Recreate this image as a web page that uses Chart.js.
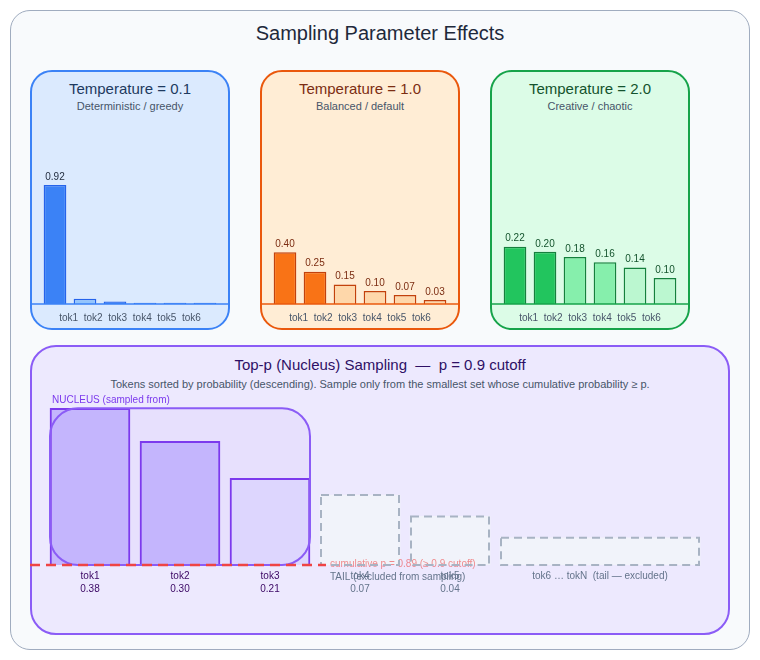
<!DOCTYPE html>
<html>
<head>
<meta charset="utf-8">
<script src="https://cdn.jsdelivr.net/npm/chart.js@4.4.1/dist/chart.umd.min.js"></script>
<style>
  html, body { margin: 0; padding: 0; background: #ffffff; width: 760px; height: 660px; overflow: hidden;
    font-family: "Liberation Sans", Arial, sans-serif; }
  .box { position: absolute; box-sizing: border-box; }
  #frame { left: 10px; top: 10px; width: 740px; height: 640px; border: 1.5px solid #a0acbf; border-radius: 20px; background: #f8fafc; }
  .panel { border-style: solid; border-width: 2px; border-radius: 22px; }
  .t { position: absolute; white-space: pre; transform: translate(-50%, -50%); line-height: 1; }
  canvas { position: absolute; }
</style>
</head>
<body>
<div id="frame" class="box"></div>
<div class="t" style="left:380px; top:33px; font-size:20px; color:#1e293b;">Sampling Parameter Effects</div>

<div class="box panel" style="left:30px; top:70px; width:200px; height:260px; border-color:#3b82f6; background:#dbeafe;"></div>
<div class="box panel" style="left:260px; top:70px; width:200px; height:260px; border-color:#ea580c; background:#ffedd5;"></div>
<div class="box panel" style="left:490px; top:70px; width:200px; height:260px; border-color:#16a34a; background:#dcfce7;"></div>
<div class="box panel" style="left:30px; top:345px; width:700px; height:290px; border-color:#8b5cf6; background:#ede9fe; border-radius:26px;"></div>

<div class="t" style="left:130px; top:88px; font-size:15px; color:#1e3a5f;">Temperature = 0.1</div>
<div class="t" style="left:130px; top:106px; font-size:11px; color:#475569;">Deterministic / greedy</div>
<div class="t" style="left:360px; top:88px; font-size:15px; color:#7c2d12;">Temperature = 1.0</div>
<div class="t" style="left:360px; top:106px; font-size:11px; color:#475569;">Balanced / default</div>
<div class="t" style="left:590px; top:88px; font-size:15px; color:#14532d;">Temperature = 2.0</div>
<div class="t" style="left:590px; top:106px; font-size:11px; color:#475569;">Creative / chaotic</div>

<div class="t" style="left:380px; top:364px; font-size:15px; color:#2e1065;">Top-p (Nucleus) Sampling  —  p = 0.9 cutoff</div>
<div class="t" style="left:380px; top:384px; font-size:11px; color:#475569;">Tokens sorted by probability (descending). Sample only from the smallest set whose cumulative probability ≥ p.</div>

<canvas id="c1" width="200" height="215" style="left:30px; top:115px;"></canvas>
<canvas id="c2" width="200" height="215" style="left:260px; top:115px;"></canvas>
<canvas id="c3" width="200" height="215" style="left:490px; top:115px;"></canvas>
<canvas id="c4" width="700" height="240" style="left:30px; top:395px;"></canvas>

<script>
// ---------------- data ----------------
const tempTokens = ['tok1', 'tok2', 'tok3', 'tok4', 'tok5', 'tok6'];
const temp01 = [0.92, 0.04, 0.02, 0.01, 0.01, 0.01];
const temp10 = [0.40, 0.25, 0.15, 0.10, 0.07, 0.03];
const temp20 = [0.22, 0.20, 0.18, 0.16, 0.14, 0.10];

const P_CUTOFF = 0.9;
const nucleusTokens = ['tok1', 'tok2', 'tok3'];
const nucleusProbs = [0.38, 0.30, 0.21];
const tailTokens = ['tok4', 'tok5'];
const tailProbs = [0.07, 0.04];
const restLabel = 'tok6 … tokN  (tail — excluded)';
const restProb = 0.01;

// ---------------- setup ----------------
const FONT = '"Liberation Sans", Arial, sans-serif';
Chart.defaults.font.family = FONT;
Chart.defaults.animation = false;

const LABEL_STEP_PX = 24.55;      // spacing of the token label row
const PLOT_W = 180;

function tempPlugin(cfg) {
  return {
    id: 'tempDecor',
    afterDatasetsDraw(chart) {
      const ctx = chart.ctx;
      const meta = chart.getDatasetMeta(0);
      const y0 = chart.scales.y.getPixelForValue(0);
      ctx.save();
      ctx.strokeStyle = cfg.border;
      ctx.lineWidth = 1.5;
      ctx.beginPath();
      ctx.moveTo(0, y0);
      ctx.lineTo(chart.width, y0);
      ctx.stroke();
      ctx.font = '10px ' + FONT;
      ctx.fillStyle = cfg.labelColor;
      ctx.textAlign = 'center';
      ctx.textBaseline = 'bottom';
      meta.data.forEach((bar, i) => {
        const v = chart.data.datasets[0].data[i];
        if (v >= cfg.minLabel) ctx.fillText(v.toFixed(2), bar.x, bar.y - 3);
      });
      ctx.restore();
    }
  };
}

function tempChart(id, values, cfg) {
  const half = PLOT_W / LABEL_STEP_PX / 2;
  const mid = (tempTokens.length - 1) / 2;
  return new Chart(document.getElementById(id), {
    type: 'bar',
    data: {
      labels: tempTokens,
      datasets: [{
        data: values,
        backgroundColor: cfg.fills,
        borderColor: cfg.edge,
        borderWidth: 1.5,
        barPercentage: 0.757,
        categoryPercentage: 1
      }]
    },
    options: {
      responsive: false,
      animation: false,
      layout: { padding: { left: 10, right: 10, top: 0, bottom: 0 } },
      plugins: { legend: { display: false }, tooltip: { enabled: false } },
      scales: {
        x: { display: false },
        x2: {
          type: 'linear', position: 'bottom', offset: false,
          min: mid - half, max: mid + half,
          grid: { display: false, drawTicks: false, offset: false },
          border: { display: false },
          ticks: {
            autoSkip: false, maxRotation: 0, padding: 8, color: '#475569',
            font: { size: 10 },
            callback: (v) => tempTokens[v]
          },
          afterBuildTicks: (a) => { a.ticks = tempTokens.map((_, i) => ({ value: i })); },
          afterFit: (a) => { a.height = 26; }
        },
        y: { display: false, min: 0, max: cfg.max }
      }
    },
    plugins: [tempPlugin(cfg)]
  });
}

tempChart('c1', temp01, {
  fills: ['#3b82f6', '#93c5fd', '#3b82f6', '#3b82f6', '#3b82f6', '#3b82f6'],
  edge: '#2563eb', border: '#3b82f6', labelColor: '#1e293b', minLabel: 0.1, max: 1.46
});
tempChart('c2', temp10, {
  fills: ['#f97316', '#f97316', '#fed7aa', '#fed7aa', '#fed7aa', '#fed7aa'],
  edge: '#c2410c', border: '#ea580c', labelColor: '#7c2d12', minLabel: 0, max: 1.46
});
tempChart('c3', temp20, {
  fills: ['#22c55e', '#22c55e', '#86efac', '#86efac', '#bbf7d0', '#bbf7d0'],
  edge: '#15803d', border: '#16a34a', labelColor: '#14532d', minLabel: 0, max: 0.725
});

// ---------------- top-p panel ----------------
const SLOT_PX = 90, BAR_PX = 80, GAP_PX = 10, REST_PX = 200;
const lastIdx = nucleusTokens.length + tailTokens.length - 1;
const restX = lastIdx + (BAR_PX / 2 + GAP_PX + REST_PX / 2) / SLOT_PX;
const TAIL_BASE = -0.028;
const cumP = nucleusProbs.reduce((a, b) => a + b, 0);

const bottomLabels = [
  ...nucleusTokens.map((t, i) => [t, nucleusProbs[i].toFixed(2)]),
  ...tailTokens.map((t, i) => [t, tailProbs[i].toFixed(2)]),
  restLabel
];
const tickValues = [...nucleusTokens, ...tailTokens].map((_, i) => i).concat([restX]);

function roundRectPath(ctx, x, y, w, h, r) {
  ctx.beginPath();
  ctx.moveTo(x + r, y);
  ctx.lineTo(x + w - r, y);
  ctx.arcTo(x + w, y, x + w, y + r, r);
  ctx.lineTo(x + w, y + h - r);
  ctx.arcTo(x + w, y + h, x + w - r, y + h, r);
  ctx.lineTo(x + r, y + h);
  ctx.arcTo(x, y + h, x, y + h - r, r);
  ctx.lineTo(x, y + r);
  ctx.arcTo(x, y, x + r, y, r);
  ctx.closePath();
}

function nucleusBox(chart) {
  const bars = chart.getDatasetMeta(0).data;
  const first = bars[0], last = bars[bars.length - 1];
  const left = first.x - first.width / 2;
  const right = last.x + last.width / 2;
  const top = Math.min(...bars.map(b => b.y));
  const bottom = chart.scales.y.getPixelForValue(0);
  return { left, right, top, bottom };
}

const topPPlugin = {
  id: 'topP',
  beforeDatasetsDraw(chart) {
    const ctx = chart.ctx;
    const b = nucleusBox(chart);
    ctx.save();
    roundRectPath(ctx, b.left, b.top, b.right - b.left, b.bottom - b.top, 28);
    ctx.fillStyle = 'rgba(139,92,246,0.06)';
    ctx.fill();
    ctx.restore();
  },
  afterDatasetsDraw(chart) {
    const ctx = chart.ctx;
    const b = nucleusBox(chart);
    const tail = chart.getDatasetMeta(1).data[0];
    ctx.save();
    // cutoff caption (faint, under the dashed outlines)
    ctx.font = '10px ' + FONT;
    ctx.fillStyle = 'rgba(239,68,68,0.6)';
    ctx.textAlign = 'left';
    ctx.textBaseline = 'middle';
    ctx.fillText('cumulative p = ' + cumP.toFixed(2) + ' (≥ ' + P_CUTOFF + ' cutoff)', tail.x - tail.width / 2 + 10, b.bottom - 1);
    // dashed tail boxes
    ctx.strokeStyle = '#a8b3c3';
    ctx.lineWidth = 2;
    ctx.setLineDash([8, 5]);
    [1, 2].forEach(di => {
      chart.getDatasetMeta(di).data.forEach(el => {
        const p = el.getProps(['x', 'y', 'base', 'width'], true);
        ctx.strokeRect(p.x - p.width / 2 + 1, p.y, p.width - 2, p.base - p.y);
      });
    });
    // nucleus outline
    ctx.setLineDash([]);
    ctx.strokeStyle = '#8b5cf6';
    ctx.lineWidth = 2;
    roundRectPath(ctx, b.left, b.top, b.right - b.left, b.bottom - b.top, 28);
    ctx.stroke();
    // cutoff line
    ctx.strokeStyle = '#ef4444';
    ctx.lineWidth = 2.5;
    ctx.setLineDash([10, 6]);
    ctx.beginPath();
    ctx.moveTo(0, b.bottom);
    ctx.lineTo(tail.x - tail.width / 2 + 6, b.bottom);
    ctx.stroke();
    // nucleus caption
    ctx.font = '10px ' + FONT;
    ctx.fillStyle = '#7c3aed';
    ctx.textAlign = 'left';
    ctx.textBaseline = 'middle';
    ctx.fillText('NUCLEUS (sampled from)', b.left + 2, b.top - 8);
    ctx.restore();
  },
  afterDraw(chart) {
    const ctx = chart.ctx;
    const tail = chart.getDatasetMeta(1).data[0];
    const base = chart.scales.y.getPixelForValue(0);
    ctx.save();
    ctx.font = '10px ' + FONT;
    ctx.fillStyle = '#64748b';
    ctx.textAlign = 'left';
    ctx.textBaseline = 'middle';
    ctx.fillText('TAIL (excluded from sampling)', tail.x - tail.width / 2 + 10, base + 12);
    ctx.restore();
  }
};

new Chart(document.getElementById('c4'), {
  type: 'bar',
  data: {
    datasets: [
      {
        data: nucleusProbs.map((p, i) => ({ x: i, y: p })),
        yAxisID: 'y', grouped: false, barThickness: BAR_PX,
        backgroundColor: ['#c4b5fd', '#c4b5fd', '#ddd6fe'],
        borderColor: '#7c3aed', borderWidth: 2
      },
      {
        data: tailProbs.map((p, i) => ({ x: nucleusTokens.length + i, y: p })),
        yAxisID: 'y2', grouped: false, barThickness: BAR_PX, base: TAIL_BASE,
        backgroundColor: 'rgba(241,245,249,0.85)', borderWidth: 0
      },
      {
        data: [{ x: restX, y: restProb }],
        yAxisID: 'y2', grouped: false, barThickness: REST_PX, base: TAIL_BASE,
        backgroundColor: 'rgba(241,245,249,0.85)', borderWidth: 0
      }
    ]
  },
  options: {
    responsive: false,
    animation: false,
    layout: { padding: { left: 15, right: 10, top: 5, bottom: 0 } },
    plugins: { legend: { display: false }, tooltip: { enabled: false } },
    scales: {
      x: {
        type: 'linear', min: -0.5, max: 7.0, offset: false,
        grid: { display: false, drawTicks: false, offset: false },
        border: { display: false },
        ticks: {
          autoSkip: false, maxRotation: 0, padding: 5,
          font: { size: 10, lineHeight: 1.3 },
          color: (c) => (c.index < nucleusTokens.length ? '#3b0764' : '#64748b'),
          callback: (v, i) => bottomLabels[i]
        },
        afterBuildTicks: (a) => { a.ticks = tickValues.map(v => ({ value: v })); },
        afterFit: (a) => { a.height = 70; }
      },
      y: { display: false, min: 0, max: 0.40 },
      y2: { display: false, min: TAIL_BASE, max: TAIL_BASE + 0.231 }
    }
  },
  plugins: [topPPlugin]
});
</script>
</body>
</html>
